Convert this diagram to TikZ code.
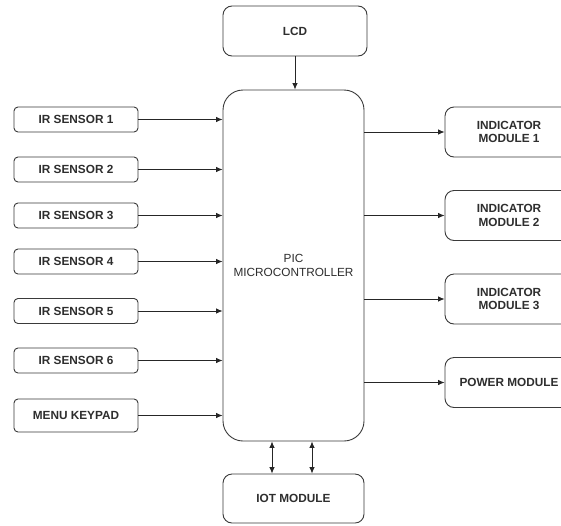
\documentclass[tikz,border=0pt]{standalone}
\usepackage{fontspec}
\setmainfont{Liberation Sans}
\usetikzlibrary{arrows.meta}
\definecolor{edge}{HTML}{3A3A3A}
\definecolor{txt}{HTML}{2E2E2E}
\begin{document}
\begin{tikzpicture}[x=1pt,y=-1pt,
  blk/.style={draw=edge, line width=0.9pt, fill=white, align=center, inner sep=1pt,
    font=\fontsize{11.8}{13.5}\selectfont\bfseries, text=txt},
  sens/.style={blk, rounded corners=4pt, minimum width=124pt, minimum height=25pt},
  big/.style={blk, rounded corners=9pt},
  rbox/.style={blk, rounded corners=9pt, minimum width=128pt, minimum height=50pt},
  link/.style={draw=black!85, line width=0.8pt, -{Latex[length=6.5pt,width=5.5pt]}},
  dlink/.style={draw=black!85, line width=0.8pt, {Latex[length=6.5pt,width=5.5pt]}-{Latex[length=6.5pt,width=5.5pt]}}]
\useasboundingbox (0,0) rectangle (561,525);
\fill[white] (0,0) rectangle (561,525);

\node[big, minimum width=144pt, minimum height=50pt] (lcd) at (295,31) {LCD};
\node[blk, rounded corners=20pt, minimum width=141pt, minimum height=351pt,
      font=\fontsize{11.8}{13.5}\selectfont] (pic) at (293.5,265.5) {PIC\\MICROCONTROLLER};
\node[big, minimum width=141pt, minimum height=49pt] (iot) at (293.5,498.5) {IOT MODULE};

\node[sens] (s1) at (76,119.5) {IR SENSOR 1};
\node[sens] (s2) at (76,169.5) {IR SENSOR 2};
\node[sens] (s3) at (76,215.5) {IR SENSOR 3};
\node[sens] (s4) at (76,261.5) {IR SENSOR 4};
\node[sens] (s5) at (76,311) {IR SENSOR 5};
\node[sens] (s6) at (76,360.5) {IR SENSOR 6};
\node[sens, minimum height=33pt] (kp) at (76,415.5) {MENU KEYPAD};

\node[rbox] (i1) at (509,132) {INDICATOR\\MODULE 1};
\node[rbox] (i2) at (509,215.5) {INDICATOR\\MODULE 2};
\node[rbox] (i3) at (509,299) {INDICATOR\\MODULE 3};
\node[rbox] (pw) at (509,382.5) {POWER MODULE};

\draw[link] (lcd.south) -- (lcd.south |- pic.north);
\foreach \s in {s1,s2,s3,s4,s5,s6,kp}{
  \draw[link] (\s.east) -- (\s.east -| pic.west);
}
\foreach \r in {i1,i2,i3,pw}{
  \draw[link] (\r.west -| pic.east) -- (\r.west);
}
\coordinate (b1) at (272,0);
\coordinate (b2) at (312,0);
\draw[dlink] (b1 |- pic.south) -- (b1 |- iot.north);
\draw[dlink] (b2 |- pic.south) -- (b2 |- iot.north);
\end{tikzpicture}
\end{document}
